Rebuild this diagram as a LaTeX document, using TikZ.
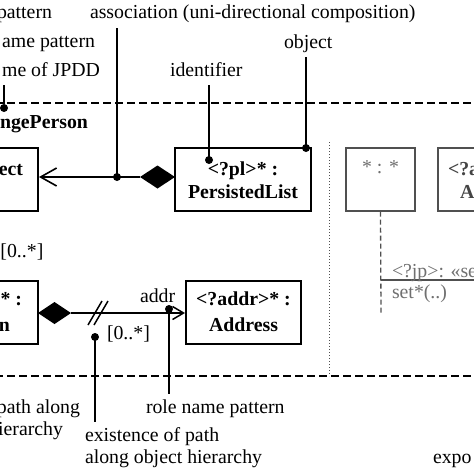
\documentclass[tikz,border=0pt]{standalone}
\usepackage{fontspec}
\setmainfont{Liberation Serif}
\usetikzlibrary{arrows.meta}
\definecolor{gtxt}{HTML}{707070}
\definecolor{gline}{HTML}{505050}
\definecolor{gdark}{HTML}{454545}
\begin{document}
\begin{tikzpicture}[x=1pt,y=-1pt,
  txt/.style={font=\fontsize{19.8}{24}\selectfont, inner sep=0pt, outer sep=0pt},
  btxt/.style={txt, font=\fontsize{19.8}{24}\selectfont\bfseries},
  objbox/.style={draw, line width=2pt, inner sep=0pt},
  gbox/.style={draw=gline, line width=1.3pt, inner sep=0pt},
  dotnode/.style={circle, fill=black, inner sep=0pt, minimum size=8pt},
  leader/.style={line width=1.6pt},
  sepline/.style={line width=1.6pt, dash pattern=on 8pt off 4pt},
  conn/.style={line width=1.8pt}
]
\clip (0,0) rectangle (474,474);
\fill[white] (0,0) rectangle (474,474);

% separator lines
\coordinate (s1l) at (-5,103);
\coordinate (s1r) at (480,103);
\coordinate (s2l) at (-5,376);
\coordinate (s2r) at (480,376);
\draw[sepline] (s1l) -- (s1r);
\draw[sepline] (s2l) -- (s2r);

% dotted separator
\coordinate (dvt) at (329,142);
\coordinate (dvb) at (329,376);
\draw[gline, line width=1pt, dotted] (dvt) -- (dvb);

% boxes
\node[objbox, minimum width=118pt, minimum height=63pt] (obj) at (-21,179.5) {};
\node[objbox, minimum width=136pt, minimum height=63pt] (pl) at (243,179.5) {};
\node[gbox, minimum width=69pt, minimum height=63pt] (star) at (380.5,179.5) {};
\node[gbox, minimum width=82pt, minimum height=63pt] (aright) at (479,179.5) {};
\node[objbox, minimum width=118pt, minimum height=63pt] (per) at (-21,312) {};
\node[objbox, minimum width=115pt, minimum height=63pt] (addr) at (243.5,312) {};

% box texts
\node[btxt, anchor=base east] (tect) at (23,175) {ect};
\node[btxt, anchor=base] (tpl1) at (243,175) {<?pl>* :};
\node[btxt, anchor=base] (tpl2) at (243,198) {PersistedList};
\node[txt, anchor=base, text=gtxt] (tstar) at (380.5,173) {* : *};
\node[btxt, anchor=base west, text=gdark] (ta1) at (448,175) {<?a};
\node[btxt, anchor=base west, text=gdark] (ta2) at (460,198) {A};
\node[btxt, anchor=base east] (tper1) at (22,305) {* :};
\node[btxt, anchor=base east] (tper2) at (10,331) {n};
\node[btxt, anchor=base] (tad1) at (243.5,305) {<?addr>* :};
\node[btxt, anchor=base] (tad2) at (243.5,331) {Address};

% upper composition
\coordinate (d1r) at (175,177);
\coordinate (d1l) at (140,177);
\fill (d1r) -- (157.5,165.5) -- (d1l) -- (157.5,188.5) -- cycle;
\draw[conn, -{Straight Barb[length=16pt,width=18pt,line width=1.6pt]}] (d1l) -- (obj.east |- d1l);

% lower composition
\coordinate (d2l) at (38,313);
\coordinate (d2r) at (71,313);
\fill (d2l) -- (54.5,302) -- (d2r) -- (54.5,324) -- cycle;
\draw[conn, -{Straight Barb[length=11pt,width=13pt,line width=1.5pt]}] (d2r) -- (addr.west |- d2r);
\coordinate (sl1a) at (88,325); \coordinate (sl1b) at (102,301);
\coordinate (sl2a) at (94,325); \coordinate (sl2b) at (108,301);
\draw[line width=1.5pt] (sl1a) -- (sl1b);
\draw[line width=1.5pt] (sl2a) -- (sl2b);

% lifeline and message
\coordinate (lifeend) at (381,314);
\draw[gline, line width=1.3pt, dash pattern=on 5pt off 3pt] (star.south) -- (lifeend);
\coordinate (msgl) at (381,280);
\coordinate (msgr) at (480,280);
\draw[gline, line width=1.5pt] (msgl) -- (msgr);
\node[txt, anchor=base west, text=gtxt] (tmsg) at (392,277) {<?jp>: «se};
\node[txt, anchor=base west, text=gtxt] (tset) at (392,298) {set*(..)};

% annotations top
\node[txt, anchor=base east] (tpat) at (52,18) {pattern};
\node[txt, anchor=base east] (tname) at (95,47) {ame pattern};
\node[txt, anchor=base east] (tjpdd) at (100,76) {me of JPDD};
\node[btxt, anchor=base east] (tchg) at (88,128) {ngePerson};
\node[txt, anchor=base west] (tassoc) at (90,18) {association (uni-directional composition)};
\node[txt, anchor=base west] (tobj) at (284,48) {object};
\node[txt, anchor=base west] (tid) at (170,76) {identifier};

\node[dotnode] (djpdd) at (4,108) {};
\coordinate (ljpdd) at (4,85);
\draw[leader] (ljpdd) -- (djpdd);

\node[dotnode] (dassoc) at (117,177) {};
\coordinate (lassoc) at (117,28);
\draw[leader] (lassoc) -- (dassoc.center);

\node[dotnode] (did) at (209,160) {};
\coordinate (lid) at (209,85);
\draw[leader] (lid) -- (did.center);

\node[dotnode] (dobj) at (306,148) {};
\coordinate (lobj) at (306,57);
\draw[leader] (lobj) -- (dobj.center);

% annotations bottom
\node[txt, anchor=base west] (tm1) at (0.5,257) {[0..*]};
\node[txt, anchor=base west] (tm2) at (107,339) {[0..*]};
\node[txt, anchor=base west] (trole) at (140,302) {addr};

\node[dotnode] (dpath) at (95,337) {};
\coordinate (lpath) at (95,422);
\draw[leader] (dpath.center) -- (lpath);

\node[dotnode] (drole) at (169,309) {};
\coordinate (lrole) at (169,394);
\draw[leader] (drole.center) -- (lrole);

\node[txt, anchor=base east] (tpa) at (80,413) {path along};
\node[txt, anchor=base east] (thi) at (63,435) {ierarchy};
\node[txt, anchor=base west] (trnp) at (146,413) {role name pattern};
\node[txt, anchor=base west] (tex1) at (85,441) {existence of path};
\node[txt, anchor=base west] (tex2) at (85,463) {along object hierarchy};
\node[txt, anchor=base west] (texpo) at (433,463) {expo};
\end{tikzpicture}
\end{document}
